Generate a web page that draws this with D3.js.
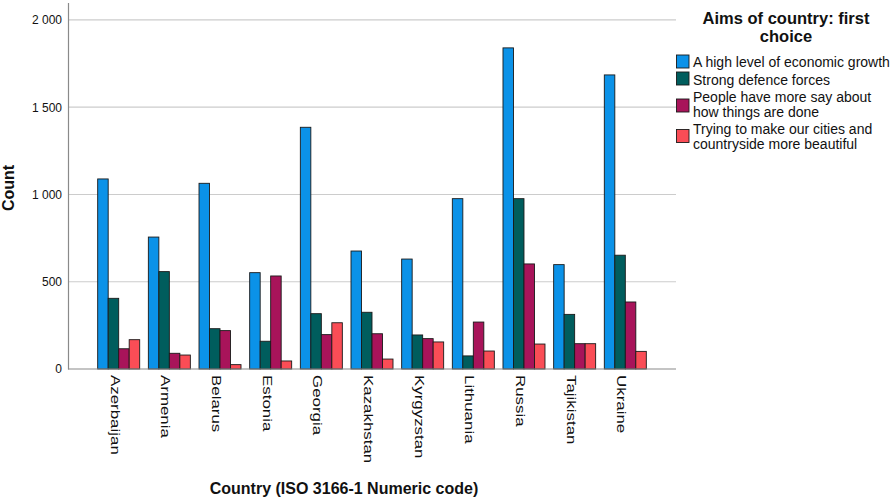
<!DOCTYPE html>
<html>
<head>
<meta charset="utf-8">
<script src="https://cdn.jsdelivr.net/npm/d3@7"></script>
<style>
  html, body { margin: 0; padding: 0; background: #ffffff; }
  svg { display: block; font-family: "Liberation Sans", Arial, sans-serif; }
</style>
</head>
<body>
<svg id="chart" width="892" height="499"></svg>
<script>
// ---- data ----
const categories = ["Azerbaijan", "Armenia", "Belarus", "Estonia", "Georgia", "Kazakhstan",
                    "Kyrgyzstan", "Lithuania", "Russia", "Tajikistan", "Ukraine"];
const seriesNames = ["A high level of economic growth", "Strong defence forces",
                     "People have more say about how things are done",
                     "Trying to make our cities and countryside more beautiful"];
const legendLines = [["A high level of economic growth"], ["Strong defence forces"],
                     ["People have more say about", "how things are done"],
                     ["Trying to make our cities and", "countryside more beautiful"]];
const growth    = [1089, 756, 1064, 552, 1385, 676, 630, 976, 1840, 598, 1685];
const defence   = [405, 558, 231, 159, 317, 325, 195, 75, 976, 313, 652];
const moreSay   = [116, 90, 220, 533, 197, 202, 174, 269, 602, 145, 384];
const beautiful = [168, 80, 25, 46, 265, 57, 155, 103, 143, 145, 101];
const yTicks = [0, 500, 1000, 1500, 2000];
const colors = ["#0b92e8", "#005d5d", "#a8145a", "#fa4d56"];

const seriesValues = [growth, defence, moreSay, beautiful];
const rows = categories.map((c, i) => ({
  category: c,
  values: seriesNames.map((s, j) => ({ series: s, value: seriesValues[j][i] }))
}));

// ---- layout ----
const svg = d3.select("#chart");
const plotLeft = 68, plotRight = 676, plotBottom = 369, plotTop = 2.5;

const x = d3.scaleBand().domain(categories).range([plotLeft, plotRight])
  .paddingInner(0.171).paddingOuter(0.586);
const xs = d3.scaleBand().domain(seriesNames).range([0, x.bandwidth()]).padding(0);
const y = d3.scaleLinear().domain([0, 2100]).range([plotBottom, plotTop]);

const fmt = d3.formatLocale({ decimal: ".", thousands: " ", grouping: [3], currency: ["", ""] }).format(",d");

// gridlines
svg.append("g").selectAll("line").data(yTicks.filter(d => d > 0)).join("line")
  .attr("x1", plotLeft).attr("x2", plotRight)
  .attr("y1", d => y(d)).attr("y2", d => y(d))
  .attr("stroke", "#cccccc").attr("stroke-width", 1.2);

// y axis
const yAxis = svg.append("g").attr("transform", `translate(${plotLeft},0)`)
  .call(d3.axisLeft(y).tickValues(yTicks).tickFormat(fmt).tickSize(0).tickPadding(6));
yAxis.select(".domain").attr("stroke", "#8a8a8a").attr("stroke-width", 1.2);
yAxis.selectAll("text").attr("font-size", 12).attr("fill", "#111")
  .attr("font-family", "'Liberation Sans', Arial, sans-serif");

// bars
const groups = svg.append("g").selectAll("g").data(rows).join("g")
  .attr("transform", d => `translate(${x(d.category)},0)`);
groups.selectAll("rect").data(d => d.values).join("rect")
  .attr("x", d => xs(d.series))
  .attr("y", d => y(d.value))
  .attr("width", xs.bandwidth())
  .attr("height", d => y(0) - y(d.value))
  .attr("fill", (d, i) => colors[i])
  .attr("stroke", "#1a1a1a").attr("stroke-width", 0.9);

// x axis line
svg.append("line").attr("x1", plotLeft).attr("x2", plotRight)
  .attr("y1", y(0)).attr("y2", y(0))
  .attr("stroke", "#8a8a8a").attr("stroke-width", 1.2);

// category labels (rotated, stretched)
svg.append("g").selectAll("text").data(categories).join("text")
  .attr("transform", d => `translate(${x(d) + x.bandwidth() / 2 - 8},375) rotate(90) scale(1.3,1)`)
  .attr("font-size", 13).attr("fill", "#111").attr("text-anchor", "start")
  .text(d => d);

// axis titles
svg.append("text").attr("x", 344).attr("y", 494).attr("text-anchor", "middle")
  .attr("font-size", 16).attr("font-weight", "bold").attr("fill", "#111")
  .text("Country (ISO 3166-1 Numeric code)");
svg.append("text").attr("transform", "translate(14,188) rotate(-90)")
  .attr("text-anchor", "middle").attr("font-size", 16).attr("font-weight", "bold").attr("fill", "#111")
  .text("Count");

// legend
const lg = svg.append("g");
lg.append("text").attr("x", 786).attr("y", 24).attr("text-anchor", "middle")
  .attr("font-size", 16.5).attr("font-weight", "bold").attr("fill", "#111")
  .text("Aims of country: first");
lg.append("text").attr("x", 786).attr("y", 41.5).attr("text-anchor", "middle")
  .attr("font-size", 16.5).attr("font-weight", "bold").attr("fill", "#111")
  .text("choice");

const swatchY = [55, 72, 99, 129.5];
const textY = [67, 85, 102, 134];
const items = lg.selectAll("g.item").data(seriesNames).join("g").attr("class", "item");
items.append("rect")
  .attr("x", 676.5).attr("y", (d, i) => swatchY[i])
  .attr("width", 12.5).attr("height", 13)
  .attr("fill", (d, i) => colors[i]).attr("stroke", "#1a1a1a").attr("stroke-width", 0.9);
items.each(function (d, i) {
  const t = d3.select(this).append("text").attr("font-size", 14).attr("fill", "#111");
  legendLines[i].forEach((line, k) => {
    t.append("tspan").attr("x", 693).attr("y", textY[i] + k * 14.5).text(line);
  });
});
</script>
</body>
</html>
